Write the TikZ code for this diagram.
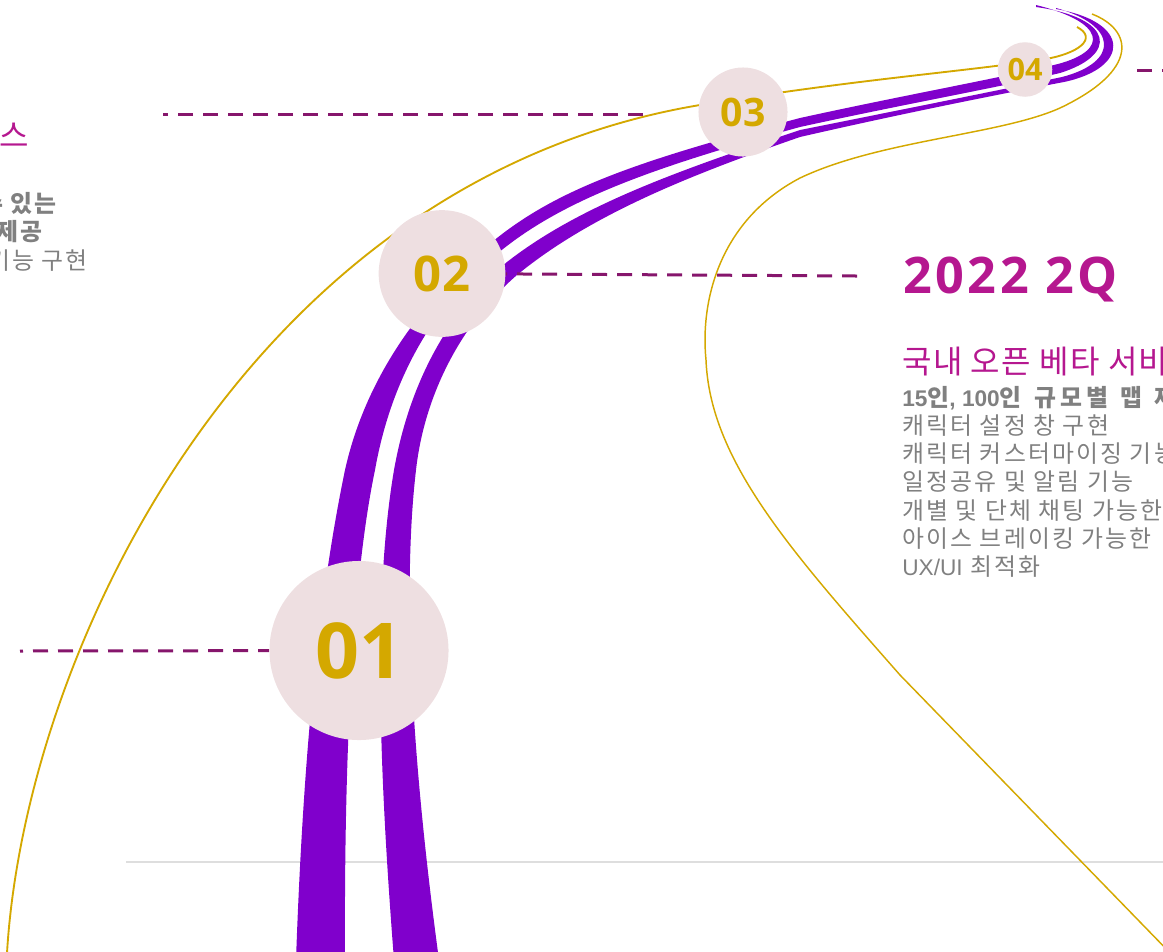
\documentclass[tikz,border=0pt]{standalone}
\usepackage{fontspec}
\setmainfont{Open Sans}
\newfontfamily\krf[LetterSpace=9]{Noto Sans CJK KR}
\newfontfamily\krb[LetterSpace=17,WordSpace=1.3]{Noto Sans CJK KR}
\newfontfamily\krsub[LetterSpace=4]{Noto Sans CJK KR}
\newfontfamily\latf{Liberation Sans}
\newfontfamily\numf{Open Sans}
\newfontfamily\titlef[LetterSpace=7]{Open Sans}
\newcommand\latx[1]{{\latf\fontsize{17}{20}\selectfont #1}}
\definecolor{roadc}{RGB}{128,0,204}
\definecolor{goldc}{RGB}{212,168,0}
\definecolor{circfill}{RGB}{238,223,225}
\definecolor{dashc}{RGB}{134,22,108}
\definecolor{magc}{RGB}{181,23,143}
\definecolor{graytxt}{RGB}{128,128,128}
\definecolor{grayline}{RGB}{222,222,222}
\pgfdeclarelayer{bg}
\pgfsetlayers{bg,main}
\tikzset{
  circ/.style={circle, fill=circfill, text=goldc, inner sep=0pt, font=\numf\bfseries},
  dline/.style={draw=dashc, line width=2.25pt, dash pattern=on 11.25pt off 7.5pt},
  goldl/.style={draw=goldc, line width=1.2pt},
  lane/.style={fill=roadc},
  titletxt/.style={text=magc, inner sep=0pt, font=\titlef\bfseries\fontsize{37.8}{40}\selectfont},
  subtxt/.style={text=magc, inner sep=0pt, font=\krsub\fontsize{24}{28}\selectfont},
  bodytxt/.style={text=graytxt, inner sep=0pt, font=\krf\fontsize{17.9}{21}\selectfont},
  bodybold/.style={bodytxt, font=\krf\bfseries\fontsize{17.9}{21}\selectfont},
  bodyboldwide/.style={bodytxt, font=\krb\bfseries\fontsize{17.9}{21}\selectfont},
}
\begin{document}
\begin{tikzpicture}[x=0.75pt,y=-0.75pt]
\useasboundingbox (0,0) rectangle (1163,951);
\clip (0,0) rectangle (1163,951);

% circles
\node[circ, minimum size=134.3pt, font=\numf\bfseries\fontsize{57.8}{58}\selectfont] (c1) at (359,650.5) {01};
\node[circ, minimum size=95pt, font=\numf\bfseries\fontsize{36.8}{38}\selectfont] (c2) at (442,273.5) {02};
\node[circ, minimum size=66.8pt, font=\numf\bfseries\fontsize{29.4}{30}\selectfont] (c3) at (743,112) {03};
\node[circ, minimum size=40.9pt, font=\numf\bfseries\fontsize{23}{24}\selectfont] (c4) at (1025,69.5) {04};

% free ends of connectors
\coordinate (d1) at (20,651);
\coordinate (d2) at (857,276);
\coordinate (tlA) at (163,114);
\coordinate (tlB) at (643,114);
\coordinate (d4a) at (1137,70);
\coordinate (d4b) at (1175,70);
\coordinate (gA) at (126,862);
\coordinate (gB) at (1175,862);

\begin{pgfonlayer}{bg}
  \draw[draw=grayline, line width=1.7pt] (gA) -- (gB);
  % lane A
  \fill[lane] (296,960) .. controls (303,760) and (318,600) .. (345,470)
    .. controls (365,380) and (420,300) .. (497,238)
    .. controls (560,188) and (640,160) .. (800,118)
    .. controls (900,96) and (1000,78) .. (1058,64)
    .. controls (1110,50) and (1105,22) .. (1036,5)
    -- (1036,7)
    .. controls (1115,18) and (1118,55) .. (1060,73)
    .. controls (1000,87) and (900,105) .. (800,127)
    .. controls (650,168) and (565,200) .. (503,249)
    .. controls (430,305) and (390,385) .. (375,470)
    .. controls (352,580) and (344,760) .. (345,960) -- cycle;
  % lane B
  \fill[lane] (394,960) .. controls (380,780) and (372,600) .. (394,470)
    .. controls (410,380) and (450,310) .. (507,262)
    .. controls (580,205) and (680,170) .. (800,130)
    .. controls (900,110) and (1000,90) .. (1062,77)
    .. controls (1120,62) and (1118,25) .. (1056,8)
    -- (1056,9)
    .. controls (1132,22) and (1130,68) .. (1064,82)
    .. controls (1000,94) and (900,114) .. (800,137)
    .. controls (690,175) and (590,215) .. (517,275)
    .. controls (465,320) and (425,390) .. (416,470)
    .. controls (402,590) and (412,760) .. (439,960) -- cycle;
  % dashed leaders
  \draw[dline, dash phase=9pt] (d1) -- (c1);
  \draw[dline] (d2) -- (c2);
  \draw[dline] (tlB) -- (tlA);
  \draw[dline] (d4a) -- (d4b);
  % gold curves
  \draw[goldl, line width=1.4pt] (7,953) .. controls (25,650) and (250,180) .. (700,105)
    .. controls (850,80) and (960,72) .. (1040,60)
    .. controls (1080,54) and (1098,38) .. (1077,27);
  \draw[goldl, line width=1.1pt] (1092,14) .. controls (1133,30) and (1140,70) .. (1060,108)
    .. controls (1000,135) and (880,140) .. (800,178)
    .. controls (720,220) and (700,300) .. (706,360)
    .. controls (710,460) and (790,550) .. (900,675)
    -- (1175,958);
\end{pgfonlayer}

% right text block
\node[titletxt, anchor=base west] (t2q) at (903,293) {2022 2Q};
\node[subtxt, anchor=base west] (sub2) at (902,373) {국내 오픈 베타 서비스};
\node[bodyboldwide, anchor=base west] (r1) at (902,406) {\latx{15}인\latx{, 100}인 규모별 맵 제공};
\node[bodytxt, anchor=base west] (r2) at (902,434.3) {캐릭터 설정 창 구현};
\node[bodytxt, anchor=base west] (r3) at (902,462.6) {캐릭터 커스터마이징 기능 구현};
\node[bodytxt, anchor=base west] (r4) at (902,490.9) {일정공유 및 알림 기능};
\node[bodytxt, anchor=base west] (r5) at (902,519.2) {개별 및 단체 채팅 가능한};
\node[bodytxt, anchor=base west] (r6) at (902,547.5) {아이스 브레이킹 가능한};
\node[bodytxt, anchor=base west] (r7) at (902,575.8) {\latx{UX/UI} 최적화};

% left text block (cut off)
\node[subtxt, anchor=base east] (subL) at (29,147) {서비스};
\node[bodybold, anchor=base east] (l1) at (57,212.5) {참여할 수 있는};
\node[bodybold, anchor=base east] (l2) at (43,240.8) {제공};
\node[bodytxt, anchor=base east] (l3) at (88,269.1) {기능 구현};
\end{tikzpicture}
\end{document}
